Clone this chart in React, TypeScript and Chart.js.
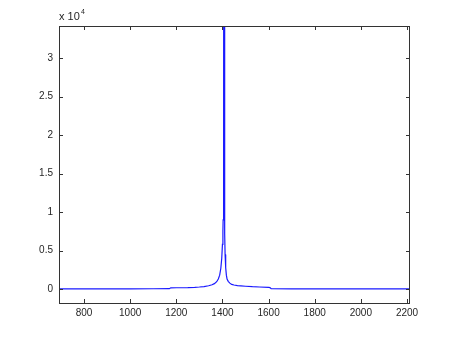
import React, { useEffect, useRef } from "react";
import { Chart, registerables } from "chart.js";

Chart.register(...registerables);

// Spectrum samples (x = wavenumber-like axis, y = intensity)
const xs = [692, 800, 900, 1000, 1100, 1170, 1176, 1200, 1250, 1280, 1300, 1320, 1340, 1355, 1365, 1375, 1382, 1388, 1393, 1397, 1400, 1402, 1403, 1405, 1407.3, 1409.3, 1410, 1411.5, 1414, 1417, 1420, 1425, 1432, 1440, 1450, 1465, 1480, 1500, 1530, 1560, 1600, 1606, 1611, 1700, 1800, 1900, 2000, 2100, 2213];
const ys = [20, 20, 25, 25, 30, 40, 150, 160, 180, 220, 260, 320, 420, 550, 700, 950, 1300, 1800, 2700, 4000, 5800, 7500, 9000, 9200, 200000, 200000, 7200, 4500, 2800, 1800, 1300, 1000, 760, 600, 520, 440, 400, 360, 300, 260, 200, 180, 30, 25, 25, 20, 20, 20, 20];

const xTicks = [800, 1000, 1200, 1400, 1600, 1800, 2000, 2200];
const yTicks = [0, 5000, 10000, 15000, 20000, 25000, 30000];
const yTickLabels = ["0", "0.5", "1", "1.5", "2", "2.5", "3"];
const xRange = [691.5, 2213];
const yRange = [-1820, 34200];

const boxPlugin = {
  id: "matlabBox",
  afterDraw(chart: any) {
    const { ctx, chartArea } = chart;
    const { left, right, top, bottom } = chartArea;
    const xs_ = chart.scales.x;
    const ys_ = chart.scales.y;
    ctx.save();
    ctx.strokeStyle = "#333333";
    ctx.lineWidth = 1;
    ctx.strokeRect(Math.round(left) + 0.5, Math.round(top) + 0.5, Math.round(right - left) - 1, Math.round(bottom - top));
    const tl = 4;
    ctx.beginPath();
    xTicks.forEach((v) => {
      const px = Math.round(xs_.getPixelForValue(v)) + 0.5;
      ctx.moveTo(px, top);
      ctx.lineTo(px, top + tl);
      ctx.moveTo(px, bottom);
      ctx.lineTo(px, bottom - tl);
    });
    yTicks.forEach((v) => {
      const py = Math.round(ys_.getPixelForValue(v)) + 0.5;
      ctx.moveTo(left, py);
      ctx.lineTo(left + tl, py);
      ctx.moveTo(right, py);
      ctx.lineTo(right - tl, py);
    });
    ctx.stroke();
    // exponent label
    ctx.fillStyle = "#262626";
    ctx.font = "11px 'Liberation Sans', Arial, sans-serif";
    ctx.textBaseline = "alphabetic";
    ctx.textAlign = "left";
    ctx.fillText("x 10", left, top - 6);
    ctx.font = "7px 'Liberation Sans', Arial, sans-serif";
    ctx.fillText("4", left + 22, top - 12);
    ctx.restore();
  },
};

export default function App() {
  const ref = useRef<HTMLCanvasElement | null>(null);
  useEffect(() => {
    document.body.style.margin = "0";
    const canvas = ref.current!;
    const points = xs.map((x, i) => ({ x, y: ys[i] }));
    const chart = new Chart(canvas, {
      type: "line",
      data: {
        datasets: [
          {
            data: points,
            borderColor: "#1a1aff",
            borderWidth: 1.2,
            pointRadius: 0,
            tension: 0,
            fill: false,
          },
        ],
      },
      options: {
        animation: false,
        responsive: false,
        events: [],
        layout: { padding: { top: 26, right: 44, left: 0, bottom: 0 } },
        plugins: { legend: { display: false }, tooltip: { enabled: false } },
        scales: {
          x: {
            type: "linear",
            min: xRange[0],
            max: xRange[1],
            grid: { display: false, drawTicks: false },
            border: { display: false },
            afterBuildTicks: (s: any) => {
              s.ticks = xTicks.map((v) => ({ value: v }));
            },
            afterFit: (s: any) => {
              s.height = 38;
            },
            ticks: {
              padding: 4,
              maxRotation: 0,
              autoSkip: false,
              color: "#262626",
              font: { family: "'Liberation Sans', Arial, sans-serif", size: 10 },
              callback: (v: any) => String(v),
            },
          },
          y: {
            type: "linear",
            min: yRange[0],
            max: yRange[1],
            grid: { display: false, drawTicks: false },
            border: { display: false },
            afterBuildTicks: (s: any) => {
              s.ticks = yTicks.map((v) => ({ value: v }));
            },
            afterFit: (s: any) => {
              s.width = 59;
            },
            ticks: {
              padding: 6,
              autoSkip: false,
              color: "#262626",
              font: { family: "'Liberation Sans', Arial, sans-serif", size: 10 },
              callback: (v: any) => {
                const i = yTicks.indexOf(Number(v));
                return i >= 0 ? yTickLabels[i] : "";
              },
            },
          },
        },
      },
      plugins: [boxPlugin],
    });
    return () => chart.destroy();
  }, []);
  return <canvas ref={ref} width={454} height={341} style={{ display: "block" }} />;
}
